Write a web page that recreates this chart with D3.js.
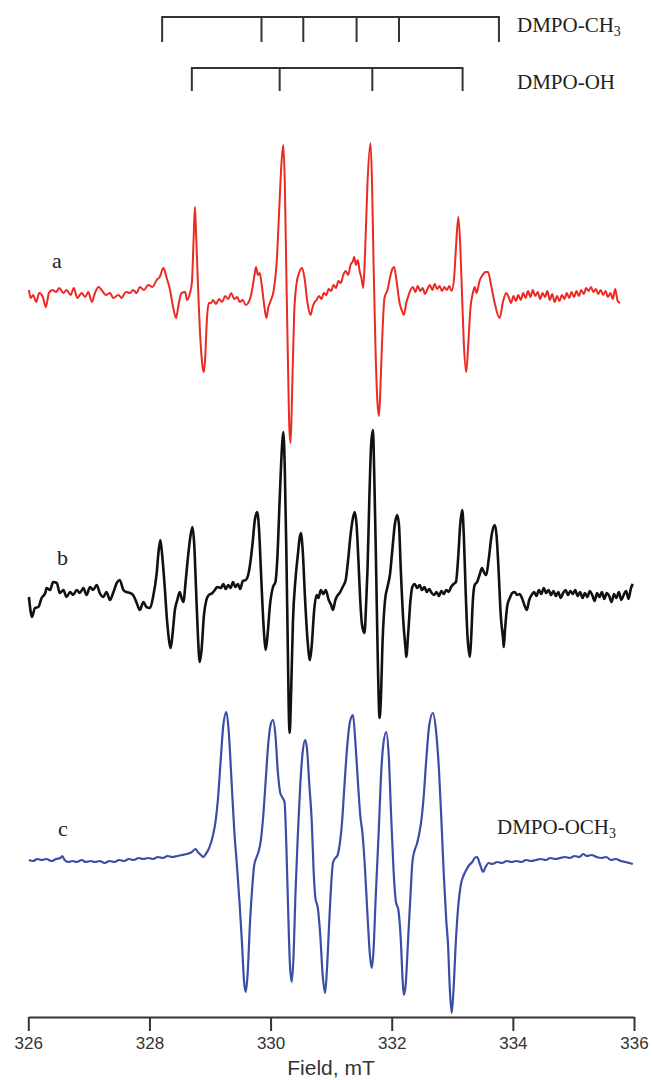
<!DOCTYPE html>
<html>
<head>
<meta charset="utf-8">
<script src="https://cdn.jsdelivr.net/npm/d3@7"></script>
<style>
html, body { margin: 0; padding: 0; background: #fff; }
svg { display: block; }
</style>
</head>
<body>
<svg id="chart" width="652" height="1080"></svg>
<script>
// field axis, mT
var fieldTicks = [326, 328, 330, 332, 334, 336];

// stick diagrams (line positions in mT)
var ch3Lines = [328.21, 329.85, 330.54, 331.42, 332.12, 333.77];
var ohLines = [328.70, 330.15, 331.68, 333.17];

// spectrum a (red), [field mT, signal a.u.]
var specA = [
  [326.01,3],[326.04,-5],[326.08,-2],[326.13,-9],[326.18,0],[326.24,-4],[326.29,-14],[326.34,0],[326.40,3],[326.46,1],
  [326.51,5],[326.58,0],[326.63,3],[326.70,-2],[326.75,5],[326.81,-5],[326.88,0],[326.94,-4],[326.99,1],[327.05,-9],
  [327.10,0],[327.16,6],[327.21,3],[327.28,-2],[327.35,0],[327.40,-5],[327.49,-2],[327.54,-5],[327.61,1],[327.68,0],
  [327.73,3],[327.79,0],[327.84,6],[327.91,3],[327.98,8],[328.05,6],[328.12,13],[328.17,16],[328.23,25],[328.28,16],
  [328.34,3],[328.39,-14],[328.44,-25],[328.48,-12],[328.53,0],[328.59,1],[328.62,-7],[328.67,0],
  [328.70,10],[328.73,55],[328.75,86],[328.77,60],[328.80,10],[328.84,-45],[328.88,-75],[328.90,-79],[328.92,-65],[328.95,-25],[328.98,-10],
  [329.02,-10],[329.05,-7],[329.10,-11],[329.15,-6],[329.20,-9],[329.25,-3],[329.30,-6],[329.35,0],[329.40,-6],[329.45,-4],
  [329.49,-9],[329.54,-7],[329.59,-12],[329.63,-10],[329.67,-4],
  [329.70,5],[329.74,20],[329.76,26],[329.79,18],[329.82,20],[329.85,10],[329.89,-10],[329.93,-25],[329.96,-15],[330.00,-8],
  [330.05,2],[330.10,30],[330.14,80],[330.18,130],[330.21,148],[330.235,110],[330.26,20],[330.29,-80],[330.31,-135],[330.33,-150],
  [330.355,-100],[330.39,-20],[330.43,10],[330.47,20],[330.52,25],[330.56,15],[330.61,-10],[330.66,-22],[330.69,-15],[330.72,-10],
  [330.76,-7],[330.80,-3],[330.84,-6],[330.88,0],[330.92,-2],[330.96,4],[331.00,2],[331.04,8],[331.08,5],[331.12,12],
  [331.16,10],[331.20,18],[331.24,22],[331.28,18],[331.32,28],[331.36,32],[331.38,36],[331.41,28],[331.44,33],[331.47,22],
  [331.50,15],[331.53,5],[331.56,40],[331.60,110],[331.65,150],[331.675,110],[331.70,30],[331.73,-50],[331.76,-105],[331.79,-123],
  [331.81,-100],[331.84,-50],[331.88,-5],[331.93,3],[331.97,15],[332.01,24],[332.04,26],[332.08,12],[332.13,-10],[332.17,-18],
  [332.20,-22],[332.24,-10],[332.28,-2],[332.31,3],[332.35,6],[332.39,1],[332.43,7],[332.47,2],[332.51,5],[332.55,-1],
  [332.59,4],[332.63,8],[332.67,3],[332.71,9],[332.75,4],[332.79,7],[332.83,2],[332.87,6],[332.91,3],[332.95,7],
  [332.99,2],[333.03,15],[333.06,45],[333.10,76],[333.13,50],[333.16,0],[333.19,-50],[333.23,-79],[333.26,-55],[333.30,-15],
  [333.34,0],[333.37,6],[333.40,0],[333.45,12],[333.50,18],[333.55,21],[333.59,21],[333.64,8],[333.70,-10],[333.78,-25],
  [333.84,-8],[333.89,0],[333.93,-4],[333.97,-10],[334.01,-3],[334.05,-8],[334.09,-2],[334.13,-7],[334.17,0],[334.21,-5],
  [334.25,2],[334.29,-4],[334.33,3],[334.37,-3],[334.41,1],[334.45,-6],[334.49,0],[334.53,-4],[334.57,2],[334.61,-7],
  [334.65,-1],[334.69,-9],[334.73,-3],[334.77,-8],[334.81,-2],[334.85,-6],[334.89,0],[334.93,-5],[334.97,1],[335.01,-4],
  [335.05,2],[335.09,-3],[335.13,3],[335.17,-1],[335.21,5],[335.25,2],[335.29,6],[335.33,1],[335.37,4],[335.41,-1],
  [335.45,3],[335.49,-2],[335.53,2],[335.57,-4],[335.61,0],[335.65,-6],[335.69,4],[335.73,-8],[335.77,-10]
];

// spectrum b (black)
var specB = [
  [326.01,-7],[326.04,-22],[326.06,-27],[326.11,-18],[326.165,-17],[326.22,-8],[326.28,-3],[326.30,2],[326.36,0],[326.41,8],
  [326.47,7],[326.52,-3],[326.58,0],[326.63,-7],[326.69,-2],[326.74,-5],[326.80,0],[326.85,-3],[326.91,2],[326.96,-5],
  [327.02,3],[327.07,0],[327.13,5],[327.18,-3],[327.24,-7],[327.29,-2],[327.35,-10],[327.40,-3],[327.46,7],[327.51,10],
  [327.57,0],[327.62,-2],[327.68,-3],[327.73,-5],[327.79,-13],[327.84,-20],[327.90,-12],[327.95,-17],[328.01,-18],[328.06,-7],
  [328.12,17],[328.15,38],[328.18,50],[328.21,35],[328.25,5],[328.29,-30],[328.33,-53],[328.35,-58],[328.38,-45],[328.42,-20],
  [328.46,-10],[328.50,-2],[328.53,-8],[328.56,-12],[328.60,10],[328.64,35],[328.68,55],[328.71,63],[328.74,45],[328.77,0],
  [328.80,-45],[328.83,-72],[328.86,-60],[328.90,-25],[328.94,-10],[328.98,-5],[329.04,-3],[329.08,0],[329.12,3],[329.18,2],
  [329.22,6],[329.26,1],[329.30,5],[329.34,2],[329.38,8],[329.42,3],[329.46,6],[329.50,1],[329.54,9],[329.59,10],
  [329.63,15],[329.66,25],[329.70,45],[329.74,70],[329.78,78],[329.81,60],[329.84,20],[329.87,-20],[329.90,-50],[329.92,-60],
  [329.95,-45],[329.99,-15],[330.04,3],[330.08,8],[330.11,30],[330.15,90],[330.19,145],[330.21,158],[330.235,120],[330.26,40],
  [330.285,-60],[330.30,-120],[330.315,-143],[330.34,-100],[330.37,-30],[330.41,10],[330.45,35],[330.48,52],[330.50,57],[330.53,40],
  [330.57,-10],[330.61,-50],[330.65,-70],[330.68,-55],[330.72,-20],[330.76,-5],[330.79,-8],[330.83,0],[330.87,-4],[330.91,0],
  [330.96,-10],[331.00,-15],[331.03,-20],[331.07,-10],[331.11,-5],[331.14,-3],[331.19,3],[331.24,10],[331.28,30],[331.32,55],
  [331.36,72],[331.39,78],[331.42,65],[331.45,30],[331.48,-10],[331.51,-35],[331.55,-43],[331.58,-10],[331.60,20],[331.63,90],
  [331.66,145],[331.69,160],[331.71,120],[331.74,30],[331.77,-70],[331.80,-128],[331.82,-110],[331.85,-50],[331.89,-10],[331.93,3],
  [331.97,15],[332.01,40],[332.05,65],[332.09,75],[332.12,65],[332.15,20],[332.19,-30],[332.23,-60],[332.24,-67],[332.27,-45],
  [332.31,-10],[332.34,3],[332.38,6],[332.42,2],[332.46,5],[332.50,0],[332.54,3],[332.58,-2],[332.62,1],[332.66,-3],
  [332.70,-5],[332.74,-2],[332.78,-6],[332.82,-1],[332.86,-4],[332.90,0],[332.94,-2],[332.98,3],[333.02,6],[333.06,8],
  [333.10,35],[333.13,65],[333.165,80],[333.19,55],[333.22,0],[333.25,-45],[333.29,-67],[333.31,-50],[333.34,-10],[333.37,5],
  [333.41,8],[333.45,15],[333.49,22],[333.52,18],[333.56,15],[333.60,30],[333.65,55],[333.70,65],[333.73,55],[333.76,25],
  [333.80,-25],[333.84,-50],[333.85,-57],[333.87,-40],[333.91,-15],[333.95,-8],[333.99,-3],[334.03,-2],[334.07,-5],[334.11,-4],
  [334.15,-8],[334.19,-15],[334.23,-20],[334.27,-10],[334.31,-5],[334.35,-2],[334.39,-6],[334.43,0],[334.47,-4],[334.51,2],
  [334.55,-3],[334.59,0],[334.63,-5],[334.67,-1],[334.71,-6],[334.75,-2],[334.79,-8],[334.83,-3],[334.87,0],[334.91,-5],
  [334.95,-1],[334.99,-4],[335.03,0],[335.07,-6],[335.11,-2],[335.15,-8],[335.19,-3],[335.23,-7],[335.27,-1],[335.31,-5],
  [335.35,-11],[335.39,-3],[335.43,-7],[335.47,-2],[335.51,-9],[335.55,-3],[335.59,-6],[335.63,-12],[335.67,-4],[335.71,-8],
  [335.75,-2],[335.79,-10],[335.83,-5],[335.87,-1],[335.91,-9],[335.95,2],[335.98,6]
];

// spectrum c (blue, DMPO-OCH3)
var specC = [
  [326.01,0],[326.08,-1],[326.15,1],[326.22,0],[326.30,1],[326.38,-1],[326.46,1],[326.53,2],[326.56,4],[326.60,0],
  [326.66,-2],[326.73,-1],[326.80,-2],[326.88,0],[326.95,-2],[327.03,-1],[327.10,-2],[327.18,-1],[327.26,-3],[327.34,-1],
  [327.42,-2],[327.50,0],[327.58,-1],[327.66,1],[327.74,0],[327.82,2],[327.90,1],[327.98,2],[328.06,1],[328.14,3],
  [328.22,2],[328.30,4],[328.38,3],[328.46,4],[328.54,5],[328.62,6],[328.70,8],[328.76,11],[328.80,8],[328.85,5],
  [328.89,3],[328.93,6],[328.97,10],[329.01,16],[329.05,25],[329.09,38],[329.13,60],[329.18,103],[329.22,135],[329.27,148],
  [329.31,128],[329.35,85],[329.40,30],[329.45,-10],[329.49,-45],[329.53,-85],[329.56,-120],[329.59,-132],[329.62,-115],[329.66,-63],
  [329.70,-25],[329.73,-5],[329.77,3],[329.80,8],[329.84,20],[329.88,45],[329.92,80],[329.96,115],[330.00,135],[330.04,140],
  [330.08,125],[330.12,88],[330.16,67],[330.19,63],[330.23,58],[330.26,15],[330.29,-50],[330.32,-105],[330.35,-122],[330.38,-95],
  [330.41,-35],[330.45,25],[330.49,75],[330.53,108],[330.57,120],[330.60,112],[330.64,75],[330.68,38],[330.71,-10],[330.74,-38],
  [330.78,-48],[330.82,-75],[330.86,-115],[330.90,-133],[330.93,-110],[330.97,-60],[331.00,-25],[331.03,-3],[331.07,2],[331.10,4],
  [331.14,15],[331.18,38],[331.22,75],[331.26,110],[331.31,138],[331.36,145],[331.40,118],[331.44,80],[331.48,45],[331.52,25],
  [331.56,-10],[331.60,-55],[331.64,-95],[331.67,-108],[331.70,-90],[331.73,-45],[331.76,-5],[331.79,35],[331.82,80],[331.86,115],
  [331.91,128],[331.95,105],[331.99,45],[332.03,-10],[332.07,-42],[332.11,-50],[332.15,-80],[332.18,-120],[332.20,-135],[332.23,-125],
  [332.27,-80],[332.31,-35],[332.34,-3],[332.38,10],[332.41,15],[332.45,25],[332.49,40],[332.53,65],[332.57,100],[332.62,135],
  [332.68,147],[332.73,130],[332.78,90],[332.82,40],[332.86,-15],[332.90,-60],[332.93,-85],[332.96,-130],[332.99,-153],[333.02,-130],
  [333.06,-80],[333.10,-45],[333.14,-25],[333.19,-15],[333.23,-10],[333.28,-5],[333.33,-2],[333.37,2],[333.41,3],[333.45,-3],
  [333.49,-10],[333.51,-12],[333.55,-7],[333.60,-3],[333.66,-4],[333.74,-2],[333.82,-3],[333.90,-1],[333.98,-2],[334.06,-1],
  [334.14,-2],[334.22,0],[334.30,-1],[334.38,0],[334.46,1],[334.54,0],[334.62,2],[334.70,1],[334.78,2],[334.86,3],
  [334.94,2],[335.02,4],[335.10,3],[335.16,6],[335.22,4],[335.30,5],[335.38,3],[335.46,2],[335.54,3],[335.62,0],
  [335.70,1],[335.78,-1],[335.86,-2],[335.92,-3],[335.98,-4]
];

var svg = d3.select("#chart");
var x = d3.scaleLinear().domain([326, 336]).range([28.3, 634]);

var serif = "'Liberation Serif', 'Times New Roman', serif";
var sans = "'Liberation Sans', Arial, sans-serif";

// one vertical scale per trace, sharing the same gain
function traceScale(base) {
    return d3.scaleLinear().domain([-100, 100]).range([base + 100, base - 100]);
}

var traces = [
    { data: specC, base: 860, color: "#3a4ea6", width: 2.2, label: "c", lx: 58, ly: 836 },
    { data: specB, base: 590, color: "#111111", width: 2.6, label: "b", lx: 57, ly: 565 },
    { data: specA, base: 293, color: "#ec2a24", width: 2, label: "a", lx: 52, ly: 268 }
];

traces.forEach(function (t) {
    var y = traceScale(t.base);
    var line = d3.line()
        .x(function (d) { return x(d[0]); })
        .y(function (d) { return y(d[1]); })
        .curve(d3.curveMonotoneX);
    svg.append("path")
        .datum(t.data)
        .attr("d", line)
        .attr("fill", "none")
        .attr("stroke", t.color)
        .attr("stroke-width", t.width)
        .attr("stroke-linejoin", "round");
    svg.append("text")
        .attr("x", t.lx)
        .attr("y", t.ly)
        .style("font-family", serif)
        .style("font-size", "22px")
        .attr("fill", "#222")
        .text(t.label);
});

// stick diagrams
function stick(lines, y0, len) {
    var p = "M" + x(lines[0]) + "," + (y0 + len) + "V" + y0 + "H" + x(lines[lines.length - 1]) + "V" + (y0 + len);
    for (var i = 1; i < lines.length - 1; i++) {
        p += "M" + x(lines[i]) + "," + y0 + "V" + (y0 + len);
    }
    svg.append("path")
        .attr("d", p)
        .attr("fill", "none")
        .attr("stroke", "#333")
        .attr("stroke-width", 2);
}
stick(ch3Lines, 17, 25);
stick(ohLines, 68, 23);

function radical(txt, sub, tx, ty) {
    var t = svg.append("text")
        .attr("x", tx)
        .attr("y", ty)
        .style("font-family", serif)
        .style("font-size", "21px")
        .attr("fill", "#222")
        .text(txt);
    if (sub) {
        t.append("tspan").style("font-size", "14px").attr("dy", 4).text(sub);
    }
}
radical("DMPO-CH", "3", 517, 32);
radical("DMPO-OH", null, 517, 89);
radical("DMPO-OCH", "3", 497, 834);

// field axis
var axis = svg.append("g")
    .attr("transform", "translate(0,1017)")
    .call(d3.axisBottom(x).tickValues(fieldTicks).tickSize(14).tickSizeOuter(0).tickPadding(6).tickFormat(d3.format("d")));
axis.select(".domain").attr("stroke", "#333").attr("stroke-width", 2);
axis.selectAll(".tick line").attr("stroke", "#333").attr("stroke-width", 2);
axis.selectAll(".tick text")
    .style("font-family", sans)
    .style("font-size", "17px")
    .attr("fill", "#333");

svg.append("text")
    .attr("x", 331)
    .attr("y", 1075)
    .attr("text-anchor", "middle")
    .style("font-family", sans)
    .style("font-size", "21px")
    .attr("fill", "#333")
    .text("Field, mT");
</script>
</body>
</html>
